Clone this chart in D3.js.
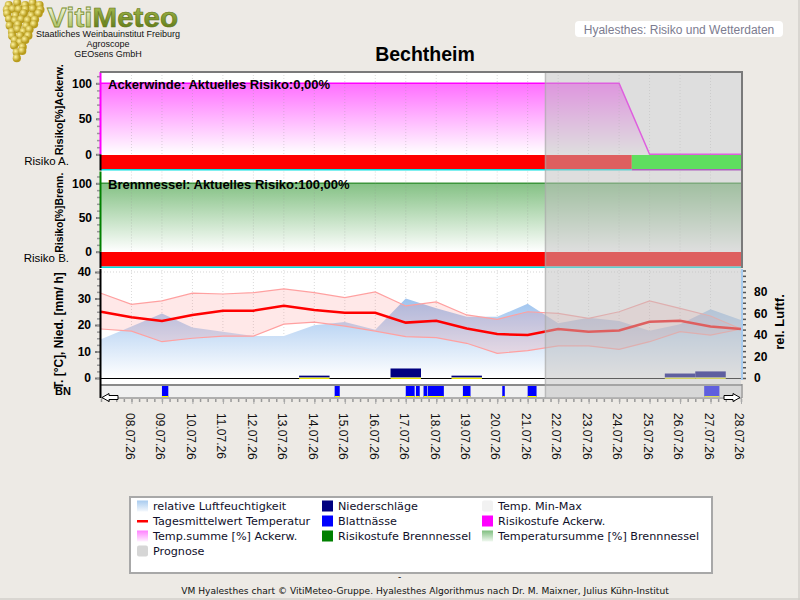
<!DOCTYPE html>
<html>
<head>
<meta charset="utf-8">
<script src="https://cdn.jsdelivr.net/npm/d3@7/dist/d3.min.js"></script>
<style>
  body { margin: 0; background: #edeae5; }
  svg { display: block; font-family: "Liberation Sans", Arial, sans-serif; }
</style>
</head>
<body>
<svg id="chart" width="800" height="600"></svg>
<script>
//==================================== data ====================================
var days = ["07.07.26", "08.07.26", "09.07.26", "10.07.26", "11.07.26", "12.07.26", "13.07.26",
  "14.07.26", "15.07.26", "16.07.26", "17.07.26", "18.07.26", "19.07.26", "20.07.26", "21.07.26",
  "22.07.26", "23.07.26", "24.07.26", "25.07.26", "26.07.26", "27.07.26", "28.07.26"];
var humidity = [36, 48, 60, 47, 43, 39, 39, 49, 52, 45, 74, 65, 57, 57, 69, 51, 56, 53, 44, 50, 64, 54];
var tempMean = [25.0, 22.9, 21.5, 23.8, 25.4, 25.4, 27.3, 25.7, 24.6, 24.6, 20.9, 21.6, 18.7, 16.6, 16.2,
  18.5, 17.5, 17.9, 21.2, 21.6, 19.4, 18.5];
var tempMax = [32.0, 27.8, 29.1, 32.0, 31.7, 32.2, 33.6, 32.2, 30.3, 32.5, 27.2, 28.7, 23.8, 22.1, 25.0,
  24.4, 22.5, 25.0, 29.1, 26.3, 23.4, 18.5];
var tempMin = [18.5, 17.7, 13.7, 15.0, 15.8, 15.8, 20.3, 21.1, 19.6, 17.7, 15.6, 15.2, 13.1, 9.3, 10.3,
  12.1, 12.1, 10.8, 13.7, 17.5, 16.2, 18.5];
var precip = [0, 0, 0, 0, 0, 0, 0, 0.7, 0, 0, 3.4, 0, 0.7, 0, 0, 0, 0, 0, 0, 1.5, 2.3, 0];
var sumAckerw = [100, 100, 100, 100, 100, 100, 100, 100, 100, 100, 100, 100, 100, 100, 100, 100, 100, 100, 0, 0, 0, 0];
var sumBrenn = [100, 100, 100, 100, 100, 100, 100, 100, 100, 100, 100, 100, 100, 100, 100, 100, 100, 100, 100, 100, 100, 100];
// Blattnaesse: von - bis
var leafWet = [
  ["09.07.26 00:00", "09.07.26 05:00"],
  ["14.07.26 16:00", "14.07.26 20:00"],
  ["17.07.26 00:00", "17.07.26 07:00"],
  ["17.07.26 08:00", "17.07.26 11:00"],
  ["17.07.26 14:00", "17.07.26 17:00"],
  ["17.07.26 17:30", "18.07.26 06:00"],
  ["18.07.26 21:00", "19.07.26 03:00"],
  ["20.07.26 04:00", "20.07.26 06:00"],
  ["21.07.26 00:00", "21.07.26 07:00"],
  ["26.07.26 19:00", "27.07.26 07:00"]
];
var riskAckerw = [["07.07.26 00:00", "24.07.26 10:00", "hoch"], ["24.07.26 10:00", "28.07.26 00:00", "niedrig"]];
var riskBrenn = [["07.07.26 00:00", "28.07.26 00:00", "hoch"]];
var prognoseStart = "21.07.26 14:00";
var riskTicks = [0, 50, 100];
var tempTicks = [0, 10, 20, 30, 40];
var humTicks = [0, 20, 40, 60, 80];
var legendItems = [
  ["relative Luftfeuchtigkeit", "grad-lf"], ["Tagesmittelwert Temperatur", "line"],
  ["Temp.summe [%] Ackerw.", "grad-ak"], ["Prognose", "#d6d6d6"],
  ["Niederschläge", "#000080"], ["Blattnässe", "#0000ff"], ["Risikostufe Brennnessel", "#008000"],
  ["Temp. Min-Max", "#f2f2f2"], ["Risikostufe Ackerw.", "#ff00ff"], ["Temperatursumme [%] Brennnessel", "grad-br"]
];

//==================================== setup ====================================
var parseDay = d3.timeParse("%d.%m.%y"),
  parseTime = d3.timeParse("%d.%m.%y %H:%M");
var dates = days.map(parseDay);

var svg = d3.select("#chart");
var defs = svg.append("defs");

var x = d3.scaleTime().domain([dates[0], dates[dates.length - 1]]).range([101, 741]);
var y1 = d3.scaleLinear().domain([0, 100]).range([154.3, 83.3]);
var y2 = d3.scaleLinear().domain([0, 100]).range([251.7, 183.3]);
var yT = d3.scaleLinear().domain([0, 40]).range([378, 272]);
var yH = d3.scaleLinear().domain([0, 100]).range([378, 270.5]);

var riskColor = { hoch: "#ff0000", niedrig: "#00ff00" };
var riskLine = { hoch: "#00e0e0", niedrig: "#a000c0" };

function vGrad(id, user, y1v, y2v, c1, c2) {
  var g = defs.append("linearGradient").attr("id", id).attr("x1", 0).attr("x2", 0);
  if (user) {
    g.attr("gradientUnits", "userSpaceOnUse").attr("y1", y1v).attr("y2", y2v);
  } else {
    g.attr("y1", 0).attr("y2", 1);
  }
  g.append("stop").attr("offset", "0%").attr("stop-color", c1);
  g.append("stop").attr("offset", "100%").attr("stop-color", c2);
}
vGrad("g-ak", true, y1(100), y1(0), "#ff6eff", "#ffffff");
vGrad("g-br", true, y2(100), y2(0), "#84c184", "#ffffff");
vGrad("g-lf", true, yH(75), yH(0), "#9cc2ee", "#ffffff");
vGrad("grad-lf", false, 0, 1, "#a8cbef", "#f4f8fd");
vGrad("grad-ak", false, 0, 1, "#ff80ff", "#fff0ff");
vGrad("grad-br", false, 0, 1, "#7fbf7f", "#f0f8f0");
vGrad("viti", true, 5, 27, "#f6f9ea", "#b0c468");
vGrad("meteo", true, 5, 27, "#a9bf52", "#66801c");
var gr = defs.append("radialGradient").attr("id", "grape").attr("cx", "35%").attr("cy", "35%");
gr.append("stop").attr("offset", "0%").attr("stop-color", "#fff4a0");
gr.append("stop").attr("offset", "100%").attr("stop-color", "#b89c1c");

//==================================== header ====================================
// Trauben-Logo
var logo = svg.append("g");
var rowW = [38, 40, 38, 34, 30, 26, 22, 18, 16, 12, 8];
for (var r = 0; r < rowW.length; r++) {
  var cnt = Math.max(1, Math.round(rowW[r] / 7));
  var cx0 = 24 - r * 0.6 - rowW[r] / 2;
  for (var c = 0; c < cnt; c++) {
    logo.append("circle")
      .attr("cx", cx0 + (c + 0.5) * rowW[r] / cnt + Math.sin(r * 3 + c * 7) * 1.2)
      .attr("cy", 4 + r * 5.3 + Math.cos(r * 5 + c * 3) * 1.2)
      .attr("r", 4.1)
      .attr("fill", "url(#grape)");
  }
}
svg.append("text").attr("x", 47).attr("y", 26.5).attr("font-size", 28).attr("font-weight", "bold")
  .attr("textLength", 131).attr("lengthAdjust", "spacingAndGlyphs")
  .call(function(t) {
    t.append("tspan").attr("fill", "url(#viti)").attr("stroke", "#7b9130").attr("stroke-width", 0.8).text("Viti");
    t.append("tspan").attr("fill", "url(#meteo)").attr("stroke", "#5f7418").attr("stroke-width", 0.6).text("Meteo");
  });
[["Staatliches Weinbauinstitut Freiburg", 36.5], ["Agroscope", 47], ["GEOsens GmbH", 57]].forEach(function(t) {
  svg.append("text").attr("x", 108).attr("y", t[1]).attr("text-anchor", "middle")
    .attr("font-size", 9).attr("fill", "#111").text(t[0]);
});

svg.append("rect").attr("x", 575).attr("y", 21).attr("width", 208).attr("height", 16).attr("rx", 4).attr("fill", "#fff");
svg.append("text").attr("x", 679).attr("y", 33.5).attr("text-anchor", "middle").attr("font-size", 12)
  .attr("fill", "#7c7c90").text("Hyalesthes: Risiko und Wetterdaten");

svg.append("text").attr("x", 425).attr("y", 61).attr("text-anchor", "middle").attr("font-size", 19.5)
  .attr("font-weight", "bold").attr("fill", "#000").text("Bechtheim");

//==================================== plot background ====================================
svg.append("rect").attr("x", 101).attr("y", 72).attr("width", 640).attr("height", 312).attr("fill", "#fff");

//==================================== risk panels ====================================
function riskPanel(p) {
  var g = svg.append("g");
  var area = d3.area().x(function(d, i) { return x(dates[i]); })
    .y0(p.y(0)).y1(function(d) { return p.y(d); });
  var line = d3.line().x(function(d, i) { return x(dates[i]); }).y(function(d) { return p.y(d); });
  g.append("path").datum(p.data).attr("d", area).attr("fill", "url(#" + p.grad + ")");
  g.append("path").datum(p.data).attr("d", line).attr("fill", "none").attr("stroke", p.lineColor).attr("stroke-width", 1.5);

  // grid
  g.selectAll(".vg").data(dates.slice(1, -1)).enter().append("line")
    .attr("x1", function(d) { return x(d); }).attr("x2", function(d) { return x(d); })
    .attr("y1", p.top).attr("y2", p.bandTop)
    .attr("stroke", "rgba(150,150,150,0.35)").attr("stroke-dasharray", "1,2");

  // risikostufe
  g.selectAll(".band").data(p.risk).enter().append("rect")
    .attr("x", function(d) { return x(parseTime(d[0])); })
    .attr("width", function(d) { return x(parseTime(d[1])) - x(parseTime(d[0])); })
    .attr("y", p.bandTop).attr("height", p.bandH)
    .attr("fill", function(d) { return riskColor[d[2]]; });
  g.selectAll(".bl").data(p.risk).enter().append("rect")
    .attr("x", function(d) { return x(parseTime(d[0])); })
    .attr("width", function(d) { return x(parseTime(d[1])) - x(parseTime(d[0])); })
    .attr("y", p.bandTop + p.bandH).attr("height", 1.5)
    .attr("fill", function(d) { return riskLine[d[2]]; });

  // axis
  var ax = g.append("g").attr("transform", "translate(100,0)")
    .call(d3.axisLeft(p.y).tickValues(riskTicks).tickSize(4).tickPadding(4));
  ax.select(".domain").remove();
  ax.selectAll("line").attr("stroke", "#777").attr("stroke-width", 2);
  ax.selectAll("text").attr("font-size", 12).attr("font-weight", "bold").attr("fill", "#000")
    .attr("font-family", "Liberation Sans, Arial, sans-serif");
  var mi = g.append("g").attr("transform", "translate(100,0)")
    .call(d3.axisLeft(p.y).tickValues(d3.range(0, 111, 10)).tickSize(3).tickFormat(""));
  mi.select(".domain").remove();
  mi.selectAll("line").attr("stroke", "#999").attr("stroke-width", 1.5);
  g.append("line").attr("x1", 100.5).attr("x2", 100.5).attr("y1", p.top).attr("y2", p.y(0))
    .attr("stroke", p.axisColor).attr("stroke-width", 2);
  g.append("line").attr("x1", 100.5).attr("x2", 100.5).attr("y1", p.y(0)).attr("y2", p.bandTop + p.bandH + 1.5)
    .attr("stroke", "#000").attr("stroke-width", 2);

  g.append("text").attr("x", 108).attr("y", p.y(100) + 5.5).attr("font-size", 13).attr("font-weight", "bold")
    .text(p.title);
  g.append("text").attr("transform", "translate(62.5," + (p.y(0) + 1) + ") rotate(-90)")
    .attr("font-size", 11.5).attr("font-weight", "bold")
    .attr("textLength", p.ylen).attr("lengthAdjust", "spacingAndGlyphs").text(p.ylabel);
  g.append("text").attr("x", 69).attr("y", p.bandTop + 10).attr("text-anchor", "end")
    .attr("font-size", 11.5).text(p.side);
}

riskPanel({ y: y1, top: 72, bandTop: 155, bandH: 14, data: sumAckerw, grad: "g-ak", lineColor: "#ff00ff",
  axisColor: "#ff00ff", risk: riskAckerw, title: "Ackerwinde: Aktuelles Risiko:0,00%",
  ylabel: "Risiko[%]Ackerw.", ylen: 91, side: "Risiko A." });
riskPanel({ y: y2, top: 171.5, bandTop: 252, bandH: 14.5, data: sumBrenn, grad: "g-br", lineColor: "#3c963c",
  axisColor: "#008000", risk: riskBrenn, title: "Brennnessel: Aktuelles Risiko:100,00%",
  ylabel: "Risiko[%]Brenn.", ylen: 80, side: "Risiko B." });

//==================================== weather panel ====================================
var wg = svg.append("g");
wg.selectAll(".vg").data(dates.slice(1, -1)).enter().append("line")
  .attr("x1", function(d) { return x(d); }).attr("x2", function(d) { return x(d); })
  .attr("y1", 270).attr("y2", 378)
  .attr("stroke", "rgba(150,150,150,0.35)").attr("stroke-dasharray", "1,2");
wg.append("line").attr("x1", 101).attr("x2", 741).attr("y1", yT(40)).attr("y2", yT(40))
  .attr("stroke", "rgba(150,150,150,0.4)").attr("stroke-dasharray", "1,2");

var humArea = d3.area().x(function(d, i) { return x(dates[i]); })
  .y0(yH(0)).y1(function(d) { return yH(d); });
wg.append("path").datum(humidity).attr("d", humArea).attr("fill", "url(#g-lf)");

var band = d3.area().x(function(d, i) { return x(dates[i]); })
  .y0(function(d, i) { return yT(tempMin[i]); }).y1(function(d) { return yT(d); });
wg.append("path").datum(tempMax).attr("d", band).attr("fill", "rgba(255,110,110,0.16)");
var tline = d3.line().x(function(d, i) { return x(dates[i]); }).y(function(d) { return yT(d); });
wg.append("path").datum(tempMax).attr("d", tline).attr("fill", "none").attr("stroke", "#ffa0a0").attr("stroke-width", 1.2);
wg.append("path").datum(tempMin).attr("d", tline).attr("fill", "none").attr("stroke", "#ffa0a0").attr("stroke-width", 1.2);
wg.append("path").datum(tempMean).attr("d", tline).attr("fill", "none").attr("stroke", "#ff0000").attr("stroke-width", 2.5);

// niederschlag
var rain = dates.map(function(d, i) { return { d: d, v: precip[i] }; }).filter(function(e) { return e.v > 0; });
wg.append("line").attr("x1", 101).attr("x2", 741).attr("y1", 378.5).attr("y2", 378.5).attr("stroke", "#000").attr("stroke-width", 1.2);
wg.selectAll(".rain").data(rain).enter().append("rect")
  .attr("x", function(e) { return x(d3.timeHour.offset(e.d, -12)); })
  .attr("width", function(e) { return x(d3.timeHour.offset(e.d, 12)) - x(d3.timeHour.offset(e.d, -12)); })
  .attr("y", function(e) { return yT(e.v) - 0.5; })
  .attr("height", function(e) { return yT(0) - yT(e.v); })
  .attr("fill", "#000080");
wg.selectAll(".rainy").data(rain).enter().append("rect")
  .attr("x", function(e) { return x(d3.timeHour.offset(e.d, -12)); })
  .attr("width", function(e) { return x(d3.timeHour.offset(e.d, 12)) - x(d3.timeHour.offset(e.d, -12)); })
  .attr("y", yT(0) - 0.3).attr("height", 1.2).attr("fill", "#ffff00");

// linke achse
var la = wg.append("g").attr("transform", "translate(100,0)")
  .call(d3.axisLeft(yT).tickValues(tempTicks).tickSize(5).tickPadding(4));
la.select(".domain").remove();
la.selectAll("line").attr("stroke", "#777").attr("stroke-width", 2);
la.selectAll("text").attr("font-size", 12).attr("font-weight", "bold").attr("fill", "#000")
  .attr("font-family", "Liberation Sans, Arial, sans-serif");
var lm = wg.append("g").attr("transform", "translate(100,0)")
  .call(d3.axisLeft(yT).tickValues(d3.range(0, 41, 2.5)).tickSize(3).tickFormat(""));
lm.select(".domain").remove();
lm.selectAll("line").attr("stroke", "#999").attr("stroke-width", 1.5);
wg.append("line").attr("x1", 100.5).attr("x2", 100.5).attr("y1", 269).attr("y2", 384).attr("stroke", "#000").attr("stroke-width", 2);

// rechte achse
wg.append("line").attr("x1", 742).attr("x2", 742).attr("y1", 269).attr("y2", 380).attr("stroke", "#a8ccf0").attr("stroke-width", 2);
var ra = wg.append("g").attr("transform", "translate(743,0)")
  .call(d3.axisRight(yH).tickValues(d3.range(0, 101, 5)).tickSize(3).tickFormat(""));
ra.select(".domain").remove();
ra.selectAll("line").attr("stroke", "#555").attr("stroke-width", 1.5);
var rl = wg.append("g").attr("transform", "translate(743,0)")
  .call(d3.axisRight(yH).tickValues(humTicks).tickSize(0).tickPadding(11));
rl.select(".domain").remove();
rl.selectAll("text").attr("font-size", 12).attr("font-weight", "bold").attr("fill", "#000")
  .attr("font-family", "Liberation Sans, Arial, sans-serif");
wg.append("text").attr("transform", "translate(784,322) rotate(-90)").attr("text-anchor", "middle")
  .attr("font-size", 13).attr("font-weight", "bold").text("rel. Luftf.");
wg.append("text").attr("transform", "translate(62.5,389) rotate(-90)")
  .attr("font-size", 12).attr("font-weight", "bold").text("T. [°C], Nied. [mm/ h]");

//==================================== blattnaesse ====================================
var bn = svg.append("g");
bn.append("rect").attr("x", 101).attr("y", 385).attr("width", 640).attr("height", 13).attr("fill", "#f0f0f0");
bn.selectAll(".bn").data(leafWet).enter().append("rect")
  .attr("x", function(d) { return x(parseTime(d[0])); })
  .attr("width", function(d) { return Math.max(1.5, x(parseTime(d[1])) - x(parseTime(d[0]))); })
  .attr("y", 386).attr("height", 11).attr("fill", "#0000ff");
bn.selectAll(".bny").data(leafWet).enter().append("rect")
  .attr("x", function(d) { return x(parseTime(d[0])); })
  .attr("width", function(d) { return Math.max(1.5, x(parseTime(d[1])) - x(parseTime(d[0]))); })
  .attr("y", 396).attr("height", 1.5).attr("fill", "#ffff00");
bn.append("line").attr("x1", 101).attr("x2", 742).attr("y1", 385).attr("y2", 385).attr("stroke", "#8a8a8a").attr("stroke-width", 2);
bn.append("line").attr("x1", 101).attr("x2", 742).attr("y1", 398).attr("y2", 398).attr("stroke", "#9a9a9a").attr("stroke-width", 1.5);
bn.append("line").attr("x1", 742).attr("x2", 742).attr("y1", 384).attr("y2", 398).attr("stroke", "#9a9a9a").attr("stroke-width", 1.5);
bn.append("line").attr("x1", 100.5).attr("x2", 100.5).attr("y1", 384).attr("y2", 398).attr("stroke", "#000").attr("stroke-width", 2);
bn.append("text").attr("x", 55).attr("y", 395).attr("font-size", 11).attr("font-weight", "bold").text("BN");

//==================================== prognose ====================================
var pStart = x(parseTime(prognoseStart));
svg.append("rect").attr("x", pStart).attr("y", 72).attr("width", 741 - pStart).attr("height", 326)
  .attr("fill", "rgba(190,190,190,0.5)");
svg.append("line").attr("x1", pStart).attr("x2", pStart).attr("y1", 72).attr("y2", 398)
  .attr("stroke", "rgba(170,170,170,0.7)").attr("stroke-width", 1.5);

// rahmen
svg.append("line").attr("x1", 100).attr("x2", 743).attr("y1", 72).attr("y2", 72).attr("stroke", "#7a7a7a").attr("stroke-width", 2);
svg.append("line").attr("x1", 742).attr("x2", 742).attr("y1", 72).attr("y2", 268).attr("stroke", "#7a7a7a").attr("stroke-width", 2);

//==================================== x achse ====================================
var xa = svg.append("g").attr("transform", "translate(0,399)")
  .call(d3.axisBottom(x).ticks(d3.timeHour.every(6)).tickSize(3).tickFormat(""));
xa.select(".domain").remove();
xa.selectAll("line").attr("stroke", "#999").attr("stroke-width", 1.5);
var xd = svg.append("g").attr("transform", "translate(0,399)")
  .call(d3.axisBottom(x).tickValues(dates.slice(1)).tickSize(5).tickFormat(""));
xd.select(".domain").remove();
xd.selectAll("line").attr("stroke", "#aaa").attr("stroke-width", 1);

svg.selectAll(".dl").data(days.slice(1)).enter().append("text")
  .attr("transform", function(d) { return "translate(" + (x(parseDay(d)) - 1.5) + ",413) rotate(90)"; })
  .attr("dy", "0.35em").attr("font-size", 12).attr("fill", "#111")
  .text(function(d) { return d; });

// scroll pfeile
function arrow(x0, dir) {
  var pts = [[0, 0], [7, -4], [7, -2], [16, -2], [16, 2], [7, 2], [7, 4]];
  svg.append("polygon")
    .attr("points", pts.map(function(p) { return (x0 + dir * p[0]) + "," + (397.5 + p[1]); }).join(" "))
    .attr("fill", "#fff").attr("stroke", "#000").attr("stroke-width", 1);
}
arrow(102, 1);
arrow(740, -1);

//==================================== legende ====================================
svg.append("rect").attr("x", 131).attr("y", 498).attr("width", 582).attr("height", 76)
  .attr("fill", "#c8c8c8");
svg.append("rect").attr("x", 130).attr("y", 497).attr("width", 582).attr("height", 76)
  .attr("fill", "#fff").attr("stroke", "#a8a8a8").attr("stroke-width", 2);
var colX = [137, 322, 482],
  colN = [4, 3, 3];
var k = 0;
for (var ci = 0; ci < 3; ci++) {
  for (var ri = 0; ri < colN[ci]; ri++) {
    var it = legendItems[k++];
    var ly = 506 + ri * 15;
    if (it[1] == "line") {
      svg.append("rect").attr("x", colX[ci]).attr("y", ly - 1).attr("width", 11).attr("height", 2.5).attr("fill", "#ff0000");
    } else {
      var fill = it[1].charAt(0) == "#" ? it[1] : "url(#" + it[1] + ")";
      svg.append("rect").attr("x", colX[ci]).attr("y", ly - 5.5).attr("width", 11).attr("height", 11)
        .attr("rx", it[0] == "Prognose" || it[0] == "Temp. Min-Max" ? 2 : 0).attr("fill", fill);
    }
    svg.append("text").attr("x", colX[ci] + 16).attr("y", ly + 4).attr("font-size", 11.2)
      .attr("font-family", "DejaVu Sans, sans-serif").attr("fill", "#10102a").text(it[0]);
  }
}

//==================================== footer ====================================
svg.append("text").attr("x", 398).attr("y", 580).attr("font-size", 9).attr("font-family", "DejaVu Sans, sans-serif").text("-");
svg.append("text").attr("x", 425).attr("y", 594).attr("text-anchor", "middle").attr("font-size", 9.1)
  .attr("font-family", "DejaVu Sans, sans-serif").attr("fill", "#111")
  .text("VM Hyalesthes chart © VitiMeteo-Gruppe. Hyalesthes Algorithmus nach Dr. M. Maixner, Julius Kühn-Institut");
svg.append("line").attr("x1", 0).attr("x2", 800).attr("y1", 599).attr("y2", 599).attr("stroke", "#d2cfca").attr("stroke-width", 1.5);
svg.append("line").attr("x1", 799).attr("x2", 799).attr("y1", 0).attr("y2", 600).attr("stroke", "#d2cfca").attr("stroke-width", 1.5);
</script>
</body>
</html>
